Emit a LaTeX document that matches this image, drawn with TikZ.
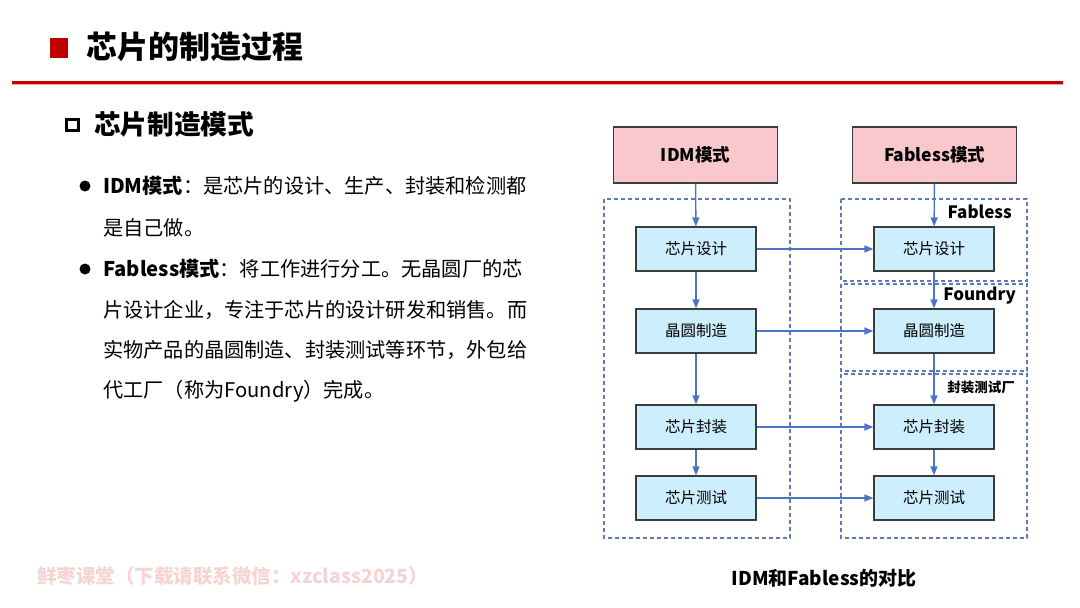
\documentclass[tikz,border=0pt]{standalone}
\usepackage{fontspec}
\setmainfont{Noto Sans CJK SC}
\usetikzlibrary{arrows.meta}
\definecolor{titlered}{HTML}{C00000}
\definecolor{pinkfill}{HTML}{F8C8CC}
\definecolor{bluefill}{HTML}{CDEEFC}
\definecolor{arrowblue}{HTML}{4A74C4}
\definecolor{dashblue}{HTML}{5E7CB4}
\definecolor{wmpink}{HTML}{F6D4D4}
\definecolor{boxborder}{HTML}{3C3C3C}
\tikzset{
  headbox/.style={draw=boxborder,line width=1.3pt,fill=pinkfill,minimum width=164pt,minimum height=56pt,inner sep=0,font=\fontsize{17.5}{20}\selectfont\bfseries},
  stepbox/.style={draw=boxborder,line width=1.3pt,fill=bluefill,minimum width=120pt,minimum height=44pt,inner sep=0,font=\fontsize{15.5}{18}\selectfont},
  flow/.style={draw=arrowblue,line width=1.4pt,-{Triangle[length=9pt,width=7pt]}},
  group/.style={draw=dashblue,line width=1.1pt,dash pattern=on 4pt off 3pt},
  bodytext/.style={anchor=west,inner sep=0,font=\fontsize{20.2}{23}\selectfont},
  grouplabel/.style={anchor=east,inner sep=0,font=\fontsize{17}{19}\selectfont\bfseries}
}
\begin{document}
\begin{tikzpicture}[x=1pt,y=-1pt]
\useasboundingbox (0,0) rectangle (1080,608);
% header
\fill[titlered] (50,38) rectangle (68,58);
\node[anchor=west,inner sep=0,font=\fontsize{31}{35}\selectfont\bfseries] (title) at (86,47) {芯片的制造过程};
\fill[titlered] (12,81) rectangle (1063,83.5);
\fill[titlered!35] (12,83.5) rectangle (1063,85);
% subheading
\draw[line width=2.6pt] (66.3,119.3) rectangle (78.7,130.7);
\node[anchor=west,inner sep=0,font=\fontsize{26.7}{30}\selectfont\bfseries] (sub) at (94,124) {芯片制造模式};
% bullets
\fill (85,186) circle (5.5pt);
\fill (85,269) circle (5.5pt);
\node[bodytext] (l1) at (103,186) {{\bfseries IDM模式}：是芯片的设计、生产、封装和检测都};
\node[bodytext] (l2) at (103,228) {是自己做。};
\node[bodytext] (l3) at (103,269) {{\bfseries Fabless模式}：将工作进行分工。无晶圆厂的芯};
\node[bodytext] (l4) at (103,310) {片设计企业，专注于芯片的设计研发和销售。而};
\node[bodytext] (l5) at (103,350) {实物产品的晶圆制造、封装测试等环节，外包给};
\node[bodytext] (l6) at (103,391) {代工厂（称为Foundry）完成。};
% groups
\draw[group] (604,199) rectangle (790,538);
\draw[group] (841,199) rectangle (1027,281);
\draw[group] (841,284) rectangle (1027,371);
\draw[group] (841,374) rectangle (1027,538);
\node[grouplabel] (gl1) at (1012,212) {Fabless};
\node[grouplabel] (gl2) at (1016,296) {Foundry};
\node[grouplabel,font=\fontsize{13.5}{15}\selectfont\bfseries] (gl3) at (1015,387) {封装测试厂};
% head boxes
\node[headbox] (idm) at (695.5,155) {IDM模式};
\node[headbox] (fab) at (934.5,155) {Fabless模式};
% steps
\node[stepbox] (ld) at (696,249) {芯片设计};
\node[stepbox] (lw) at (696,331) {晶圆制造};
\node[stepbox] (lp) at (696,427) {芯片封装};
\node[stepbox] (lt) at (696,498) {芯片测试};
\node[stepbox] (rd) at (934,249) {芯片设计};
\node[stepbox] (rw) at (934,331) {晶圆制造};
\node[stepbox] (rp) at (934,427) {芯片封装};
\node[stepbox] (rt) at (934,498) {芯片测试};
% connectors
\draw[flow] (idm) -- (ld);
\draw[flow] (ld) -- (lw);
\draw[flow] (lw) -- (lp);
\draw[flow] (lp) -- (lt);
\draw[flow] (fab) -- (rd);
\draw[flow] (rd) -- (rw);
\draw[flow] (rw) -- (rp);
\draw[flow] (rp) -- (rt);
\draw[flow] (ld) -- (rd);
\draw[flow] (lw) -- (rw);
\draw[flow] (lp) -- (rp);
\draw[flow] (lt) -- (rt);
% caption and watermark
\node[inner sep=0,font=\fontsize{19}{22}\selectfont\bfseries] (cap) at (824,578) {IDM和Fabless的对比};
\node[anchor=west,inner sep=0,text=wmpink,font=\fontsize{19.5}{22}\selectfont\bfseries] (wm) at (37,576) {鲜枣课堂（下载请联系微信：xzclass2025）};
\end{tikzpicture}
\end{document}
